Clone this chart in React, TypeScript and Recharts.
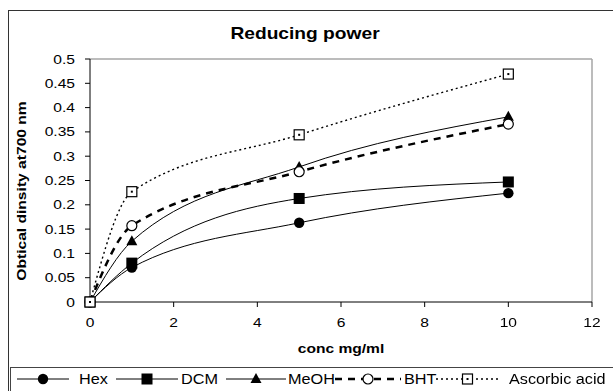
import React from 'react';
import {
  LineChart,
  Line,
  XAxis,
  YAxis,
  ReferenceLine,
  Customized,
} from 'recharts';

const conc = [0, 1, 5, 10];
const hex = [0, 0.071, 0.163, 0.224];
const dcm = [0, 0.08, 0.213, 0.247];
const meoh = [0, 0.125, 0.278, 0.381];
const bht = [0, 0.157, 0.268, 0.366];
const ascorbic = [0, 0.227, 0.344, 0.469];

const xTicks = [0, 2, 4, 6, 8, 10, 12];
const yTicks = [0, 0.05, 0.1, 0.15, 0.2, 0.25, 0.3, 0.35, 0.4, 0.45, 0.5];

const data = conc.map((c, i) => ({
  conc: c,
  hex: hex[i],
  dcm: dcm[i],
  meoh: meoh[i],
  bht: bht[i],
  ascorbic: ascorbic[i],
}));

const FONT = '"Liberation Sans", Arial, sans-serif';
const SX = 1.2; // the source text is drawn wider than Arial

type Shape = 'circle' | 'square' | 'triangle' | 'openCircle' | 'openSquare';

const series: { key: string; name: string; shape: Shape; width: number; dash?: string }[] = [
  { key: 'hex', name: 'Hex', shape: 'circle', width: 1 },
  { key: 'dcm', name: 'DCM', shape: 'square', width: 1 },
  { key: 'meoh', name: 'MeOH', shape: 'triangle', width: 1 },
  { key: 'bht', name: 'BHT', shape: 'openCircle', width: 2.5, dash: '7 6' },
  { key: 'ascorbic', name: 'Ascorbic acid', shape: 'openSquare', width: 1.4, dash: '2 3' },
];

// legend item placement
const legendLayout = [
  { iconX: 6, iconW: 52, textX: 68 },
  { iconX: 105, iconW: 62, textX: 170 },
  { iconX: 215, iconW: 60, textX: 277 },
  { iconX: 324, iconW: 66, textX: 393 },
  { iconX: 425, iconW: 63, textX: 498 },
];

function marker(shape: Shape, cx: number, cy: number, key?: string) {
  switch (shape) {
    case 'circle':
      return <circle key={key} cx={cx} cy={cy} r={5.2} fill="#000" />;
    case 'square':
      return <rect key={key} x={cx - 5.5} y={cy - 5.5} width={11} height={11} fill="#000" />;
    case 'triangle':
      return (
        <polygon
          key={key}
          points={`${cx},${cy - 6} ${cx + 5.5},${cy + 4} ${cx - 5.5},${cy + 4}`}
          fill="#000"
        />
      );
    case 'openCircle':
      return <circle key={key} cx={cx} cy={cy} r={5} fill="#fff" stroke="#000" strokeWidth={1.2} />;
    case 'openSquare':
      return (
        <g key={key}>
          <rect x={cx - 5} y={cy - 5} width={10} height={10} fill="#fff" stroke="#000" strokeWidth={1.2} />
          <rect x={cx - 1} y={cy - 1} width={2} height={2} fill="#000" />
        </g>
      );
  }
}

const XTick = (props: any) => {
  const { x, y, payload } = props;
  return (
    <text
      transform={`translate(${x},${y}) scale(${SX},1)`}
      textAnchor="middle"
      dy="0.71em"
      fontSize={13}
      fontFamily={FONT}
      fill="#000"
    >
      {payload.value}
    </text>
  );
};

const YTick = (props: any) => {
  const { x, y, payload } = props;
  return (
    <text
      transform={`translate(${x},${y}) scale(${SX},1)`}
      textAnchor="end"
      dy="0.35em"
      fontSize={13}
      fontFamily={FONT}
      fill="#000"
    >
      {String(payload.value)}
    </text>
  );
};

const Titles = () => (
  <g fontFamily={FONT} fontWeight="bold" fill="#000">
    <text transform={`translate(296,28) scale(${SX},1)`} textAnchor="middle" fontSize={16}>
      Reducing power
    </text>
    <text transform={`translate(332,342) scale(${SX},1)`} textAnchor="middle" fontSize={13}>
      conc mg/ml
    </text>
    <text transform="translate(17,180) rotate(-90) scale(1.25,1)" textAnchor="middle" fontSize={12.5}>
      Obtical dinsity at700 nm
    </text>
  </g>
);

function LegendBox() {
  return (
    <div
      style={{
        marginLeft: 1,
        height: 24,
        borderTop: '1px solid #444',
        borderLeft: '1px solid #444',
      }}
    >
      <svg width={603} height={23} style={{ display: 'block' }}>
        {series.map((s, i) => {
          const l = legendLayout[i];
          const cy = 11;
          return (
            <g key={s.key}>
              <line
                x1={l.iconX}
                x2={l.iconX + l.iconW}
                y1={cy}
                y2={cy}
                stroke="#000"
                strokeWidth={s.width}
                strokeDasharray={s.dash}
              />
              {marker(s.shape, l.iconX + l.iconW / 2, cy)}
              <text
                transform={`translate(${l.textX},${cy + 5}) scale(1.16,1)`}
                fontSize={14}
                fontFamily={FONT}
                fill="#000"
              >
                {s.name}
              </text>
            </g>
          );
        })}
      </svg>
    </div>
  );
}

export default function App() {
  return (
    <div
      style={{
        position: 'fixed',
        left: 8,
        top: 10,
        width: 605,
        height: 381,
        boxSizing: 'border-box',
        borderTop: '1px solid #333',
        borderLeft: '1px solid #333',
        background: '#fff',
      }}
    >
      <LineChart
        width={604}
        height={356}
        data={data}
        margin={{ top: 48, right: 21, left: 0, bottom: 0 }}
      >
        <XAxis
          dataKey="conc"
          type="number"
          domain={[0, 12]}
          ticks={xTicks}
          stroke="#000"
          tickSize={5}
          tickMargin={11}
          height={65}
          tick={<XTick />}
        />
        <YAxis
          type="number"
          domain={[0, 0.5]}
          ticks={yTicks}
          stroke="#000"
          tickSize={5}
          tickMargin={10}
          width={81}
          tick={<YTick />}
        />
        <ReferenceLine y={0.5} stroke="#a6a6a6" strokeWidth={1.5} />
        <ReferenceLine x={12} stroke="#a6a6a6" strokeWidth={1.5} />
        {series.map(s => (
          <Line
            key={s.key}
            dataKey={s.key}
            name={s.name}
            type="monotone"
            stroke="#000"
            strokeWidth={s.width}
            strokeDasharray={s.dash}
            isAnimationActive={false}
            dot={(p: any) => marker(s.shape, p.cx, p.cy, `${s.key}-${p.index}`)}
            activeDot={false}
          />
        ))}
        <Customized component={Titles} />
      </LineChart>
      <LegendBox />
    </div>
  );
}
